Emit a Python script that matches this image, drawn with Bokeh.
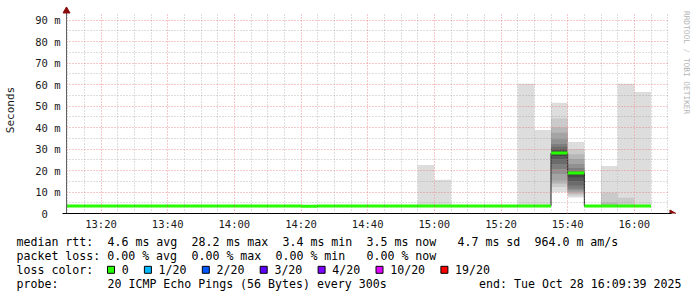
import math
import re
from datetime import datetime, timezone

from bokeh.plotting import figure
from bokeh.models import (Range1d, FixedTicker, DatetimeTickFormatter, ColumnDataSource)
from bokeh.layouts import column, row
from bokeh.core.properties import value
from bokeh.embed import file_html
from bokeh.resources import INLINE

# ---------------------------------------------------------------- data
DAY = "2025-10-28"
END_TIME = "16:09:39"

step_starts = ["13:05", "13:10", "13:15", "13:20", "13:25", "13:30", "13:35", "13:40",
               "13:45", "13:50", "13:55", "14:00", "14:05", "14:10", "14:15", "14:20",
               "14:25", "14:30", "14:35", "14:40", "14:45", "14:50", "14:55", "15:00",
               "15:05", "15:10", "15:15", "15:20", "15:25", "15:30", "15:35", "15:40",
               "15:45", "15:50", "15:55", "16:00"]

median_ms = [3.5, 3.5, 3.5, 3.5, 3.5, 3.5, 3.5, 3.5,
             3.5, 3.5, 3.5, 3.5, 3.5, 3.5, 3.5, 3.4,
             3.5, 3.5, 3.5, 3.5, 3.5, 3.5, 3.5, 3.5,
             3.5, 3.5, 3.5, 3.5, 3.5, 3.5, 28.2, 18.8,
             3.5, 3.5, 3.5, 3.5]

# 20 sorted ping times (ms) of a quiet step
baseline_pings = [3.3, 3.3, 3.4, 3.4, 3.4, 3.4, 3.4, 3.5, 3.5, 3.5,
                  3.5, 3.5, 3.5, 3.6, 3.6, 3.6, 3.7, 3.7, 3.8, 3.9]

# steps whose 20 pings show smoke
smoke_pings = {
    "14:55": [3.3, 3.3, 3.4, 3.4, 3.4, 3.4, 3.4, 3.5, 3.5, 3.5,
              3.5, 3.5, 3.5, 3.6, 3.6, 3.6, 3.7, 3.7, 3.8, 22.6],
    "15:00": [3.3, 3.3, 3.4, 3.4, 3.4, 3.4, 3.4, 3.5, 3.5, 3.5,
              3.5, 3.5, 3.5, 3.6, 3.6, 3.6, 3.7, 3.7, 3.8, 15.7],
    "15:25": [3.3, 3.3, 3.4, 3.4, 3.4, 3.4, 3.4, 3.5, 3.5, 3.5,
              3.5, 3.5, 3.5, 3.6, 3.6, 3.6, 3.7, 3.7, 3.8, 60.4],
    "15:30": [3.3, 3.3, 3.4, 3.4, 3.4, 3.4, 3.4, 3.5, 3.5, 3.5,
              3.5, 3.5, 3.5, 3.6, 3.6, 3.6, 3.7, 3.7, 3.8, 38.8],
    "15:35": [10.0, 12.3, 13.8, 15.4, 18.4, 20.7, 23.0, 25.3, 26.8, 28.0,
              28.4, 29.2, 30.0, 31.0, 32.3, 34.6, 37.6, 40.0, 44.2, 51.5],
    "15:40": [7.4, 8.4, 9.2, 10.0, 10.7, 11.5, 13.0, 15.1, 16.9, 18.7,
              18.9, 19.0, 19.3, 19.7, 21.2, 23.0, 25.3, 27.6, 30.0, 33.3],
    "15:50": [3.3, 3.3, 3.4, 3.4, 3.4, 3.4, 3.4, 3.5, 3.5, 3.5,
              3.5, 3.5, 3.5, 3.6, 3.6, 3.6, 3.7, 5.1, 9.6, 22.1],
    "15:55": [3.3, 3.3, 3.4, 3.4, 3.4, 3.4, 3.4, 3.5, 3.5, 3.5,
              3.5, 3.5, 3.5, 3.6, 3.6, 3.6, 3.7, 3.7, 7.3, 60.4],
    "16:00": [3.3, 3.3, 3.4, 3.4, 3.4, 3.4, 3.4, 3.5, 3.5, 3.5,
              3.5, 3.5, 3.5, 3.6, 3.6, 3.6, 3.7, 3.7, 3.8, 56.5],
}

x_major_ticks = ["13:20", "13:40", "14:00", "14:20", "14:40", "15:00", "15:20", "15:40", "16:00"]
y_ticks = [0, 10, 20, 30, 40, 50, 60, 70, 80, 90]
y_tick_labels = ["0\u00a0\u00a0", "10 m", "20 m", "30 m", "40 m", "50 m", "60 m", "70 m",
                 "80 m", "90 m"]

rtt_stats = ["4.6 ms avg", "28.2 ms max", "3.4 ms min", "3.5 ms now", "4.7 ms sd", "964.0 m am/s"]
loss_stats = ["0.00 % avg", "0.00 % max", "0.00 % min", "0.00 % now"]
loss_labels = ["0", "1/20", "2/20", "3/20", "4/20", "10/20", "19/20"]
loss_colors = ["#26ff00", "#00b8ff", "#0059ff", "#5e00ff", "#7e00ff", "#dd00ff", "#ff0000"]
probe_text = "20 ICMP Echo Pings (56 Bytes) every 300s"
end_text = "end: Tue Oct 28 16:09:39 2025"
watermark = "RRDTOOL / TOBI OETIKER"

# ---------------------------------------------------------------- layout constants
MONO = "DejaVu Sans Mono"
AXIS_X = 66            # pixel column of the y axis (start of data window)
DATA_R = 669           # right end of the data window / grid
GRID_T = 13            # top of grid
FRAME_L, FRAME_R, FRAME_T, FRAME_B = 62, 676, 6, 215
MAIN_W, MAIN_H = 678, 232
PX_PER_MIN = 10.0 / 3.0
PX_PER_MS = 2.17
STEP_MS = 5 * 60 * 1000
ARROW = "#8b0a0a"


def t_ms(hhmmss):
    fmt = "%Y-%m-%d %H:%M:%S" if hhmmss.count(":") == 2 else "%Y-%m-%d %H:%M"
    dt = datetime.strptime(f"{DAY} {hhmmss}", fmt).replace(tzinfo=timezone.utc)
    return dt.timestamp() * 1000.0


end_ms = t_ms(END_TIME)
x_start = end_ms - 180 * 60 * 1000


def px_to_x(px):
    return x_start + (px - AXIS_X) / PX_PER_MIN * 60000


def px_to_y(py):
    return (FRAME_B - py) / PX_PER_MS


p = figure(width=MAIN_W, height=MAIN_H, x_axis_type="datetime",
           x_range=Range1d(px_to_x(FRAME_L), px_to_x(FRAME_R)),
           y_range=Range1d(0, px_to_y(FRAME_T)),
           output_backend="svg", toolbar_location=None,
           min_border_left=FRAME_L, min_border_right=MAIN_W - FRAME_R,
           min_border_top=FRAME_T, min_border_bottom=MAIN_H - FRAME_B)
p.outline_line_color = None
p.background_fill_color = "white"
p.border_fill_color = "white"

# smoke layers (smokeping style)
sl, sr, sb, st, sc = [], [], [], [], []
for s in step_starts:
    pings = sorted(smoke_pings.get(s, baseline_pings))
    n = len(pings)
    half = n / 2
    t0 = t_ms(s)
    for ibot in range(1, n // 2 + 1):
        lo, hi = pings[ibot - 1], pings[n - ibot]
        if hi <= lo:
            continue
        g = int(190 / half * (half - ibot)) + 50
        sl.append(max(t0, x_start))
        sr.append(t0 + STEP_MS)
        sb.append(lo)
        st.append(hi)
        sc.append("#%02x%02x%02x" % (g, g, g))
smoke_src = ColumnDataSource(dict(left=sl, right=sr, bottom=sb, top=st, color=sc))
p.quad(left="left", right="right", bottom="bottom", top="top", fill_color="color",
       line_color=None, source=smoke_src)

starts = [t_ms(s) for s in step_starts]
seg_x0 = [max(s, x_start) for s in starts]
p.step(x=seg_x0 + [starts[-1] + STEP_MS], y=median_ms + [median_ms[-1]], mode="after",
       line_color="#1a1a1a", line_width=1)
p.segment(x0=seg_x0, x1=[s + STEP_MS for s in starts], y0=median_ms, y1=median_ms,
          line_color=loss_colors[0], line_width=3, line_cap="butt")

# grid
major_x = [t_ms(t) for t in x_major_ticks]
minor_x = []
t = t_ms("13:10")
while t < px_to_x(DATA_R):
    if t not in major_x:
        minor_x.append(t)
    t += STEP_MS
p.xgrid.ticker = FixedTicker(ticks=major_x, minor_ticks=minor_x)
p.ygrid.ticker = FixedTicker(ticks=y_ticks[1:], minor_ticks=[v + 5 for v in y_ticks[:-1]])
p.xgrid.cross_bounds = (0, px_to_y(GRID_T))
p.ygrid.cross_bounds = (x_start, px_to_x(DATA_R))
for g in (p.xgrid[0], p.ygrid[0]):
    g.level = "overlay"
    g.grid_line_color = "#e67070"
    g.grid_line_alpha = 0.75
    g.grid_line_dash = "1 2"
    g.minor_grid_line_color = "#888888"
    g.minor_grid_line_alpha = 0.55
    g.minor_grid_line_dash = "1 2"

# axes
p.xaxis.ticker = FixedTicker(ticks=major_x)
p.xaxis.formatter = DatetimeTickFormatter(minutes="%H:%M", hourmin="%H:%M",
                                          hours="%H:%M", minsec="%H:%M")
p.xaxis.bounds = (px_to_x(FRAME_L), px_to_x(671))
p.yaxis.ticker = FixedTicker(ticks=y_ticks)
p.yaxis.major_label_overrides = dict(zip(y_ticks, y_tick_labels))
for ax in (p.xaxis[0], p.yaxis[0]):
    ax.major_tick_out = 0
    ax.major_tick_in = 0
    ax.minor_tick_out = 0
    ax.minor_tick_in = 0
    ax.major_label_text_font = MONO
    ax.major_label_text_font_size = "10.5px"
    ax.major_label_text_color = "#1a1a1a"
p.xaxis.axis_line_color = "black"
p.xaxis.major_label_standoff = 4
p.yaxis.axis_line_color = None
p.yaxis.major_label_standoff = 2
p.yaxis.axis_label = "Seconds"
p.yaxis.axis_label_text_font = MONO
p.yaxis.axis_label_text_font_style = "normal"
p.yaxis.axis_label_text_font_size = "11px"
p.yaxis.axis_label_text_color = "#1a1a1a"
p.yaxis.axis_label_standoff = 15

# vertical axis line at the start of the data window, and the axis arrow heads
p.segment(x0=[x_start], y0=[px_to_y(217)], x1=[x_start], y1=[px_to_y(11)],
          line_color="#606060", line_width=1)
p.scatter(x=[x_start], y=[px_to_y(10.5)], marker="triangle", size=7,
          fill_color=ARROW, line_color=ARROW)
p.scatter(x=[px_to_x(671.5)], y=[0], marker="triangle", angle=-math.pi / 2, size=7,
          fill_color=ARROW, line_color=ARROW)

# watermark on the right
side = figure(width=697 - MAIN_W, height=MAIN_H, x_range=Range1d(0, 697 - MAIN_W),
              y_range=Range1d(MAIN_H, 0),
              output_backend="svg", toolbar_location=None, min_border=0,
              x_axis_location=None, y_axis_location=None)
side.grid.visible = False
side.outline_line_color = None
side.text(x=[686 - MAIN_W], y=[5], text=[watermark], angle=-math.pi / 2, text_align="left",
          text_baseline="middle", text_font=value(MONO), text_font_size="7.8px",
          text_color="#b4b4b4")

# legend area
leg = figure(width=697, height=65, x_range=Range1d(0, 697), y_range=Range1d(65, 0),
             output_backend="svg", toolbar_location=None, min_border=0,
             x_axis_location=None, y_axis_location=None)
leg.grid.visible = False
leg.outline_line_color = None

ADV = 7.0
X0 = 16
line_y = [9, 23.3, 37.3, 51.3]


def col_runs(line):
    return [(m.start(), m.group()) for m in re.finditer(r"\S+(?: \S+)*", line)]


line1 = "median rtt:  " + "  ".join(rtt_stats[:4]) + "   " + "  ".join(rtt_stats[4:])
line2 = "packet loss: " + "  ".join(loss_stats[:2]) + "  " + loss_stats[2] + "   " + loss_stats[3]
line4 = "probe:       " + probe_text

tx, ty, tt = [], [], []
for line, yy in ((line1, line_y[0]), (line2, line_y[1]), ("loss color:", line_y[2]),
                 (line4, line_y[3])):
    for c, txt in col_runs(line):
        tx.append(X0 + c * ADV)
        ty.append(yy)
        tt.append(txt)

# loss colour boxes
bx, lx = [], []
cur = X0 + 13 * ADV - 0.5
for lab in loss_labels:
    bx.append(cur)
    lx.append(cur + 14.7)
    cur = cur + 14.7 + len(lab) * ADV + 15.2
for x, lab in zip(lx, loss_labels):
    tx.append(x)
    ty.append(line_y[2])
    tt.append(lab)

leg.text(x=tx, y=ty, text=tt, text_align="left", text_baseline="middle",
         text_font=value(MONO), text_font_size="11.6px", text_color="black")
leg.text(x=[681], y=[line_y[3]], text=[end_text], text_align="right", text_baseline="middle",
         text_font=value(MONO), text_font_size="11.6px", text_color="black")
leg.rect(x=[b + 4 for b in bx], y=[line_y[2]] * len(bx), width=7, height=7,
         fill_color=loss_colors, line_color="black", line_width=1)

layout = column(row(p, side), leg)
open("out.html", "w").write(file_html(layout, INLINE))
